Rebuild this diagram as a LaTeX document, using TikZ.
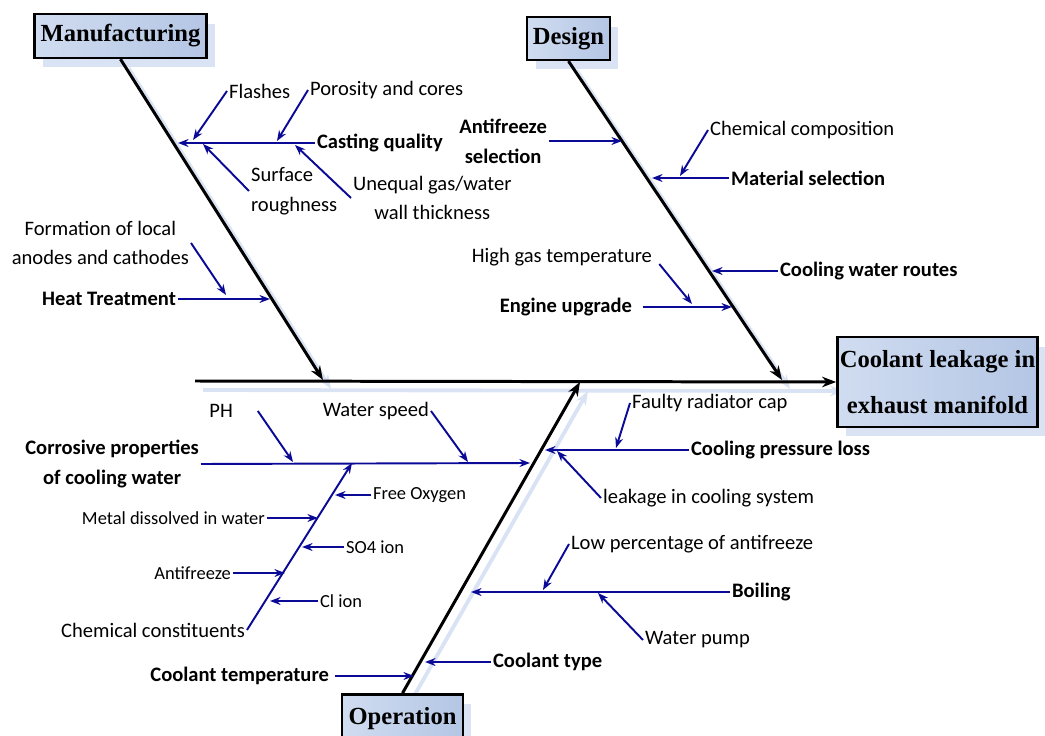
\documentclass[tikz,border=0pt]{standalone}
\usepackage{fontspec}
\setmainfont{Carlito}
\newfontfamily\headfont{Liberation Serif}
\usepackage{tikz}
\usetikzlibrary{arrows.meta,shadows,backgrounds,calc}
\definecolor{BoneBlue}{RGB}{10,10,150}
\definecolor{ShadowBlue}{RGB}{218,227,243}
\definecolor{HeadLight}{RGB}{208,220,240}
\definecolor{HeadDark}{RGB}{180,198,229}

\tikzset{
  head/.style={draw, line width=1.4pt, left color=HeadLight, right color=HeadDark,
    font=\headfont\bfseries\fontsize{14}{26}\selectfont, align=center, inner sep=0pt,
    drop shadow={shadow xshift=0.17cm, shadow yshift=-0.19cm, fill=ShadowBlue, opacity=1}},
  bone/.style={line width=1.7pt, -{Stealth[length=8pt,width=6pt]}},
  boneshadow/.style={ShadowBlue, line width=2.2pt, -{Stealth[length=8pt,width=6pt]}},
  cause/.style={BoneBlue, line width=1.1pt, -{Stealth[length=6pt,width=4.5pt]}},
  lbl/.style={font=\fontsize{11.7}{17}\selectfont, inner sep=1pt, align=center},
  blbl/.style={lbl, font=\fontsize{11.7}{17}\selectfont\bfseries},
  slbl/.style={lbl, font=\fontsize{10.5}{15}\selectfont},
}

\begin{document}
\begin{tikzpicture}[x=0.02cm, y=-0.02cm]
    \useasboundingbox (0,0) rectangle (1045,736);

    % heads
    \node[head, minimum width=98pt, minimum height=25pt] (manu) at (120.5,36) {Manufacturing};
    \node[head, minimum width=47pt, minimum height=24.4pt] (design) at (568.5,38.5) {Design};
    \node[head, minimum width=114pt, minimum height=51pt] (effect) at (937.5,382) {Coolant leakage in\\exhaust manifold};
    \node[head, minimum width=68.6pt, minimum height=28pt] (oper) at (402.5,719) {Operation};

    % main bones
    \coordinate (tail) at (195,381);
    \coordinate (mtip) at (323,380);
    \coordinate (dtip) at (782,380);
    \coordinate (otip) at (580,382);
    \draw[bone] (tail) -- (effect.west);
    \draw[bone] (manu.south) -- (mtip);
    \draw[bone] (design.south) -- (dtip);
    \draw[bone] (oper.north) -- (otip);

    \begin{scope}[on background layer]
        \draw[boneshadow] ($(tail)+(8,9)$) -- ($(effect.west)+(8,9)$);
        \draw[boneshadow] ($(manu.south)+(8,9)$) -- ($(mtip)+(8,9)$);
        \draw[boneshadow] ($(design.south)+(8,9)$) -- ($(dtip)+(8,9)$);
        \draw[boneshadow] ($(oper.north)+(8,9)$) -- ($(otip)+(8,9)$);
    \end{scope}

    % Manufacturing
    \node[blbl, anchor=west] (casting) at (315,143) {Casting quality};
    \node[lbl, anchor=west] (flashes) at (227,91) {Flashes};
    \node[lbl, anchor=west] (porosity) at (308,90) {Porosity and cores};
    \node[lbl, anchor=west, align=left] (surface) at (249,191) {Surface\\roughness};
    \node[lbl, anchor=west] (unequal) at (351,198) {Unequal gas/water\\wall thickness};
    \node[blbl, anchor=east] (heat) at (178,299) {Heat Treatment};
    \node[lbl, anchor=east] (formation) at (191,243) {Formation of local\\anodes and cathodes};
    \coordinate (castingtip) at (178,143);
    \coordinate (flashestip) at (193,140);
    \coordinate (porositytip) at (277,141);
    \coordinate (surfacetip) at (203,144);
    \coordinate (unequaltip) at (295,145);
    \coordinate (heattip) at (270,299);
    \coordinate (formationtip) at (226,295);
    \draw[cause] (casting.west) -- (castingtip);
    \draw[cause] (flashes.west) -- (flashestip);
    \draw[cause] (porosity.west) -- (porositytip);
    \draw[cause] (surface.west) -- (surfacetip);
    \draw[cause] (unequal.west) -- (unequaltip);
    \draw[cause] (heat.east) -- (heattip);
    \draw[cause] (formation.east) -- (formationtip);

    % Design
    \node[blbl, anchor=east] (antifreeze) at (549,141) {Antifreeze\\selection};
    \node[blbl, anchor=west] (material) at (729,178) {Material selection};
    \node[lbl, anchor=west] (chemcomp) at (708,130) {Chemical composition};
    \node[blbl, anchor=west] (routes) at (778,271) {Cooling water routes};
    \node[blbl, anchor=east] (engine) at (634,307) {Engine upgrade};
    \node[lbl, anchor=east] (hightemp) at (654,257) {High gas temperature};
    \coordinate (antifreezetip) at (622,141);
    \coordinate (materialtip) at (652,178);
    \coordinate (chemcomptip) at (680,176);
    \coordinate (routestip) at (712,271);
    \coordinate (enginetip) at (732,307);
    \coordinate (hightemptip) at (692,304);
    \draw[cause] (antifreeze.east) -- (antifreezetip);
    \draw[cause] (material.west) -- (materialtip);
    \draw[cause] (chemcomp.west) -- (chemcomptip);
    \draw[cause] (routes.west) -- (routestip);
    \draw[cause] ([xshift=5pt]engine.east) -- (enginetip);
    \draw[cause] ([xshift=3pt,yshift=-4pt]hightemp.east) -- (hightemptip);

    % Operation
    \node[blbl, anchor=east] (corrosive) at (201,464) {Corrosive properties\\of cooling water};
    \node[lbl, anchor=east] (ph) at (235,411) {PH};
    \node[lbl, anchor=east] (speed) at (431,411) {Water speed};
    \node[lbl, anchor=east] (chem) at (247,630) {Chemical constituents};
    \node[slbl, anchor=west] (freeox) at (371,495) {Free Oxygen};
    \node[slbl, anchor=east] (metal) at (267,518) {Metal dissolved in water};
    \node[slbl, anchor=west] (sulfate) at (344,547) {SO4 ion};
    \node[slbl, anchor=east] (antifreezeb) at (233,573) {Antifreeze};
    \node[slbl, anchor=west] (chloride) at (318,601) {Cl ion};
    \node[blbl, anchor=west] (pressure) at (689,450) {Cooling pressure loss};
    \node[lbl, anchor=west] (faulty) at (630,403) {Faulty radiator cap};
    \node[lbl, anchor=west] (leakage) at (601,498) {leakage in cooling system};
    \node[blbl, anchor=west] (boiling) at (730,592) {Boiling};
    \node[lbl, anchor=west] (lowperc) at (569,544) {Low percentage of antifreeze};
    \node[lbl, anchor=west] (pump) at (643,640) {Water pump};
    \node[blbl, anchor=west] (ctype) at (491,662) {Coolant type};
    \node[blbl, anchor=east] (ctemp) at (331,676) {Coolant temperature};
    \coordinate (corrosivetip) at (530,463);
    \coordinate (phtip) at (293,462);
    \coordinate (speedtip) at (468,462);
    \coordinate (chemtip) at (352,463);
    \coordinate (freeoxtip) at (335,495);
    \coordinate (metaltip) at (318,518);
    \coordinate (sulfatetip) at (302,547);
    \coordinate (antifreezebtip) at (285,573);
    \coordinate (chloridetip) at (270,601);
    \coordinate (pressuretip) at (545,450);
    \coordinate (faultytip) at (616,448);
    \coordinate (leakagetip) at (557,451);
    \coordinate (boilingtip) at (471,592);
    \coordinate (lowperctip) at (543,590);
    \coordinate (pumptip) at (598,593);
    \coordinate (ctypetip) at (425,662);
    \coordinate (ctemptip) at (414,676);
    \draw[cause] (corrosive.east) -- (corrosivetip);
    \draw[cause] ([xshift=13pt]ph.east) -- (phtip);
    \draw[cause] (speed.east) -- (speedtip);
    \draw[cause] (chem.east) -- (chemtip);
    \draw[cause] (freeox.west) -- (freeoxtip);
    \draw[cause] (metal.east) -- (metaltip);
    \draw[cause] (sulfate.west) -- (sulfatetip);
    \draw[cause] (antifreezeb.east) -- (antifreezebtip);
    \draw[cause] (chloride.west) -- (chloridetip);
    \draw[cause] (pressure.west) -- (pressuretip);
    \draw[cause] (faulty.west) -- (faultytip);
    \draw[cause] (leakage.west) -- (leakagetip);
    \draw[cause] (boiling.west) -- (boilingtip);
    \draw[cause] (lowperc.west) -- (lowperctip);
    \draw[cause] (pump.west) -- (pumptip);
    \draw[cause] (ctype.west) -- (ctypetip);
    \draw[cause] ([xshift=2pt]ctemp.east) -- (ctemptip);
\end{tikzpicture}
\end{document}
